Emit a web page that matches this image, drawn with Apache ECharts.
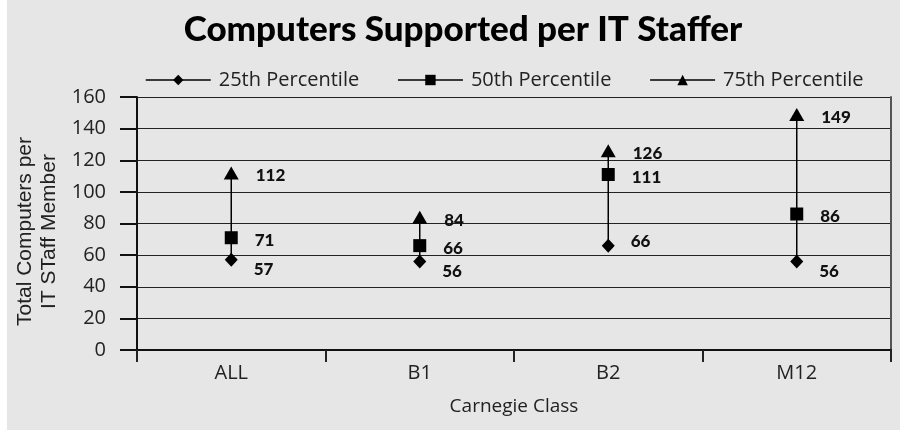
<!DOCTYPE html>
<html>
<head>
<meta charset="utf-8">
<script src="https://cdn.jsdelivr.net/npm/echarts@6/dist/echarts.min.js"></script>
<style>
html,body{margin:0;padding:0;background:#fff;}
#chart{position:absolute;left:7px;top:0;width:893px;height:430px;}
</style>
</head>
<body>
<div id="chart"></div>
<script>
const categories = ['ALL', 'B1', 'B2', 'M12'];
const p25 = [57, 56, 66, 56];
const p50 = [71, 66, 111, 86];
const p75 = [112, 84, 126, 149];
const seriesNames = ['25th Percentile', '50th Percentile', '75th Percentile'];
const yTicks = { min: 0, max: 160, interval: 20 };

const labelFont = { fontFamily: 'Lato', fontWeight: 900, fontSize: 17, color: '#111' };

function makeData(values, dy, overrides) {
  return values.map((v, i) => {
    const off = (overrides && overrides[i] !== undefined) ? overrides[i] : dy;
    return { value: v, label: { offset: [0, off] } };
  });
}

const chart = echarts.init(document.getElementById('chart'));
chart.setOption({
  backgroundColor: '#e6e6e6',
  animation: false,
  title: {
    text: 'Computers Supported per IT Staffer',
    left: 451, top: 7, textAlign: 'center',
    textStyle: { fontFamily: 'Lato', fontWeight: 900, fontSize: 35, color: '#000' }
  },
  legend: {
    data: seriesNames,
    top: 65, left: 133,
    itemWidth: 65, itemHeight: 13, itemGap: 38,
    lineStyle: { color: '#000', width: 1.5, opacity: 1 },
    itemStyle: { color: '#000' },
    textStyle: { fontFamily: 'Open Sans', fontSize: 20, color: '#222', padding: [0, 0, 0, 3] }
  },
  grid: { left: 130, right: 9, top: 97, bottom: 80, containLabel: false, outerBoundsMode: 'none' },
  xAxis: {
    type: 'category',
    data: categories,
    boundaryGap: true,
    name: 'Carnegie Class',
    nameLocation: 'middle',
    nameGap: 47,
    nameTextStyle: { fontFamily: 'Open Sans', fontSize: 19, color: '#222' },
    axisLine: { lineStyle: { color: '#111', width: 2 } },
    axisTick: { show: true, length: 12, lineStyle: { color: '#222', width: 2 } },
    axisLabel: { fontFamily: 'Open Sans', fontSize: 20, color: '#222', margin: 13 }
  },
  yAxis: [{
    type: 'value',
    min: yTicks.min, max: yTicks.max, interval: yTicks.interval,
    name: 'Total Computers per\nIT STaff Member',
    nameLocation: 'middle',
    nameGap: 76,
    nameTextStyle: { fontFamily: 'Liberation Sans', fontSize: 21, color: '#222', lineHeight: 24, padding: [0, 16, 0, 0] },
    axisLine: { show: true, lineStyle: { color: '#111', width: 2 } },
    axisTick: { show: true, length: 17, lineStyle: { color: '#111', width: 2 } },
    axisLabel: { fontFamily: 'Open Sans', fontSize: 20, color: '#222', margin: 31 },
    splitLine: { show: true, lineStyle: { color: '#222', width: 1 } }
  }, {
    type: 'value', position: 'right',
    min: yTicks.min, max: yTicks.max, interval: yTicks.interval,
    axisLine: { show: true, lineStyle: { color: '#555', width: 2 } },
    axisTick: { show: false }, axisLabel: { show: false }, splitLine: { show: false }
  }],
  series: [
    {
      type: 'custom',
      name: 'range',
      data: categories.map((c, i) => [i, p25[i], p75[i]]),
      renderItem: function (params, api) {
        const a = api.coord([api.value(0), api.value(1)]);
        const b = api.coord([api.value(0), api.value(2)]);
        return { type: 'line', shape: { x1: a[0], y1: a[1], x2: b[0], y2: b[1] },
                 style: { stroke: '#000', lineWidth: 1.5 } };
      },
      z: 1
    },
    {
      name: seriesNames[0], type: 'line', symbol: 'diamond', symbolSize: [13, 14],
      data: makeData(p25, 10, { 2: -4 }),
      lineStyle: { opacity: 0 }, itemStyle: { color: '#000' },
      label: Object.assign({ show: true, position: 'right', distance: 16 }, labelFont), z: 3
    },
    {
      name: seriesNames[1], type: 'line', symbol: 'rect', symbolSize: 13,
      data: makeData(p50, 3),
      lineStyle: { opacity: 0 }, itemStyle: { color: '#000' },
      label: Object.assign({ show: true, position: 'right', distance: 17 }, labelFont), z: 3
    },
    {
      name: seriesNames[2], type: 'line', symbol: 'triangle', symbolSize: [15, 13],
      data: makeData(p75, 3),
      lineStyle: { opacity: 0 }, itemStyle: { color: '#000' },
      label: Object.assign({ show: true, position: 'right', distance: 17 }, labelFont), z: 3
    }
  ]
});
</script>
</body>
</html>
